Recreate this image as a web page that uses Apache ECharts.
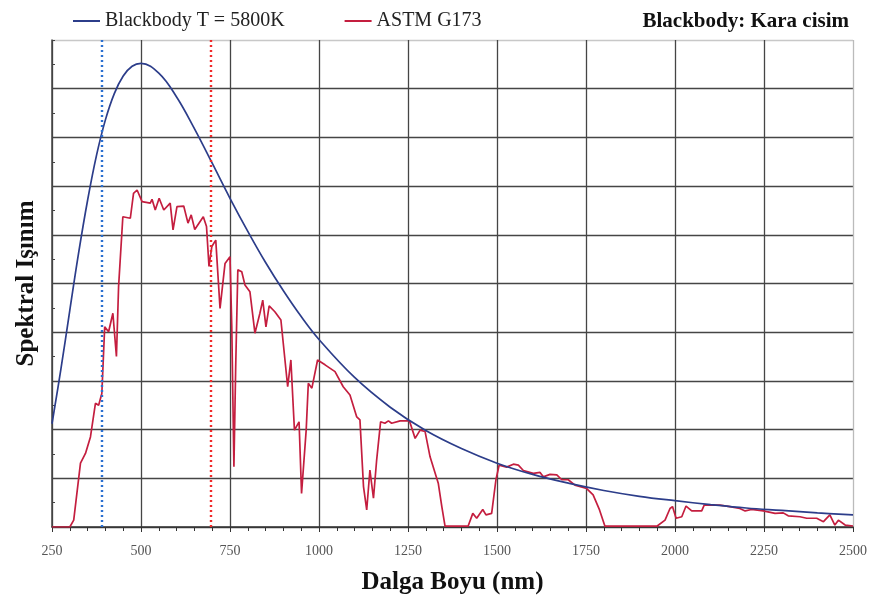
<!DOCTYPE html>
<html>
<head>
<meta charset="utf-8">
<script src="https://cdn.jsdelivr.net/npm/echarts@6/dist/echarts.min.js"></script>
<style>
  html, body { margin: 0; padding: 0; background: #fff; }
</style>
</head>
<body>
<div id="main" style="width: 870px;height: 601px"></div>
<script>
// Blackbody T = 5800K (dalga boyu nm, bağıl ışınım)
var bbWave = [250, 275, 300, 325, 350, 375, 400, 425, 450, 475, 500, 550, 600, 650, 700, 750, 800, 850, 900, 950, 1000,
  1100, 1200, 1300, 1400, 1500, 1600, 1700, 1800, 1900, 2000, 2100, 2200, 2300, 2400, 2500];
var bbValue = [2.12, 3.24, 4.45, 5.64, 6.71, 7.63, 8.36, 8.90, 9.26, 9.46, 9.52, 9.32, 8.83, 8.18, 7.47, 6.75, 6.07, 5.43, 4.85, 4.32, 3.85,
  3.07, 2.46, 1.98, 1.61, 1.31, 1.08, 0.90, 0.75, 0.63, 0.54, 0.46, 0.39, 0.34, 0.29, 0.25];

// ASTM G173
var astmWave = [250, 300, 311, 330, 344, 358, 372, 381, 390, 398, 409, 421, 431, 437, 449, 470, 479, 489, 503, 526, 531, 540, 551, 564, 582, 590,
  601, 620, 632, 641, 651, 675, 684, 691, 699, 710, 722, 736, 750, 755, 761, 766, 772, 783, 792, 806, 820, 834, 842, 851, 860, 876, 893,
  912, 921, 931, 944, 951, 964, 970, 980, 996, 1017, 1045, 1068, 1087, 1106, 1115, 1125, 1134, 1143, 1153, 1162, 1173, 1185, 1195, 1204,
  1228, 1254, 1270, 1284, 1298, 1312, 1335, 1345, 1354, 1419, 1432, 1443, 1460, 1469, 1485, 1497, 1506, 1527, 1546, 1560, 1574, 1602,
  1621, 1630, 1649, 1668, 1682, 1700, 1719, 1752, 1770, 1788, 1803, 1950, 1972, 1986, 1993, 2003, 2019, 2031, 2047, 2075, 2082, 2126,
  2154, 2182, 2197, 2215, 2248, 2281, 2304, 2318, 2351, 2370, 2398, 2417, 2435, 2449, 2459, 2478, 2500];
var astmValue = [0, 0, 0.14, 1.31, 1.51, 1.85, 2.54, 2.50, 2.74, 4.11, 4.01, 4.39, 3.50, 4.93, 6.37, 6.34, 6.85, 6.92, 6.68, 6.65, 6.73, 6.51, 6.75, 6.51, 6.65, 6.10,
  6.58, 6.59, 6.24, 6.41, 6.11, 6.37, 6.17, 5.35, 5.76, 5.89, 4.49, 5.41, 5.55, 4.11, 1.24, 3.29, 5.28, 5.24, 4.97, 4.83, 3.98, 4.39, 4.66, 4.11, 4.54, 4.42, 4.25,
  2.88, 3.43, 1.99, 2.16, 0.69, 1.99, 2.95, 2.85, 3.43, 3.33, 3.19, 2.88, 2.71, 2.26, 2.20, 0.83, 0.35, 1.17, 0.59, 1.38, 2.16, 2.13, 2.18, 2.13,
  2.18, 2.18, 1.82, 1.99, 1.96, 1.44, 0.90, 0.42, 0.02, 0.02, 0.28, 0.18, 0.36, 0.25, 0.28, 0.97, 1.27, 1.23, 1.29, 1.27, 1.16, 1.10,
  1.12, 1.03, 1.08, 1.07, 0.97, 0.97, 0.86, 0.79, 0.66, 0.35, 0.02, 0.02, 0.14, 0.38, 0.42, 0.18, 0.21, 0.43, 0.33, 0.33, 0.45, 0.45,
  0.42, 0.38, 0.33, 0.36, 0.33, 0.28, 0.29, 0.23, 0.21, 0.18, 0.18, 0.11, 0.25, 0.04, 0.14, 0.04, 0.02];

// görünür bölge sınırları
var visibleBounds = [390, 695];
var xTicks = [250, 500, 750, 1000, 1250, 1500, 1750, 2000, 2250, 2500];

function pairs(xs, ys) {
  var out = [];
  for (var i = 0; i < xs.length; i++) out.push([xs[i], ys[i]]);
  return out;
}

var serif = '"Liberation Serif", "Times New Roman", serif';
var xLineColors = xTicks.map(function (v, i) { return i === xTicks.length - 1 ? '#bbbbbb' : '#454545'; });
var yLineColors = [];
for (var k = 0; k <= 10; k++) yLineColors.push(k === 10 ? '#c8c8c8' : '#454545');

var chart = echarts.init(document.getElementById('main'));
var option = {
  animation: false,
  title: {
    text: 'Blackbody: Kara cisim',
    right: 16,
    top: 6,
    textStyle: { fontFamily: serif, fontSize: 21, fontWeight: 'bold', color: '#111' }
  },
  legend: {
    left: 68,
    top: 6,
    itemWidth: 27,
    itemHeight: 2,
    itemGap: 60,
    icon: 'rect',
    textStyle: { fontFamily: serif, fontSize: 20, color: '#222' },
    data: ['Blackbody T = 5800K', 'ASTM G173']
  },
  grid: { left: 52, right: 17, top: 40, bottom: 74 },
  xAxis: {
    type: 'value',
    min: 250,
    max: 2500,
    interval: 250,
    name: 'Dalga Boyu (nm)',
    nameLocation: 'middle',
    nameGap: 43,
    nameTextStyle: { fontFamily: serif, fontSize: 25, fontWeight: 'bold', color: '#111' },
    axisLine: { lineStyle: { color: '#333', width: 1.5 } },
    axisTick: { show: true, length: 5, lineStyle: { color: '#333' } },
    minorTick: { show: true, splitNumber: 5, length: 4, lineStyle: { color: '#333' } },
    axisLabel: {
      fontFamily: serif, fontSize: 14, color: '#555', margin: 17, showMaxLabel: true, showMinLabel: true,
      formatter: function (v) { return String(v); }
    },
    splitLine: { show: true, lineStyle: { color: xLineColors, width: 1.3 } }
  },
  yAxis: {
    type: 'value',
    min: 0,
    max: 10,
    interval: 1,
    name: 'Spektral Işınım',
    nameLocation: 'middle',
    nameGap: 13,
    nameTextStyle: { fontFamily: serif, fontSize: 25, fontWeight: 'bold', color: '#111' },
    axisLine: { show: true, lineStyle: { color: '#444', width: 1.5 } },
    axisTick: { show: true, inside: true, length: 3, lineStyle: { color: '#444' } },
    minorTick: { show: true, splitNumber: 2, length: 3, lineStyle: { color: '#444' } },
    axisLabel: { show: false },
    splitLine: { show: true, lineStyle: { color: yLineColors, width: 1.3 } }
  },
  series: [
    {
      name: 'Blackbody T = 5800K',
      type: 'line',
      data: pairs(bbWave, bbValue),
      smooth: 0.4,
      showSymbol: false,
      itemStyle: { color: '#2c3d8a' },
      lineStyle: { color: '#2c3d8a', width: 1.7 },
      z: 4,
      markLine: {
        silent: true,
        symbol: 'none',
        label: { show: false },
        data: [
          { xAxis: visibleBounds[0], lineStyle: { color: '#2a6fd0', type: [2, 3], width: 2.4 } },
          { xAxis: visibleBounds[1], lineStyle: { color: '#f02a2a', type: [2, 3], width: 2.4 } }
        ]
      }
    },
    {
      name: 'ASTM G173',
      type: 'line',
      data: pairs(astmWave, astmValue),
      showSymbol: false,
      itemStyle: { color: '#c41e3f' },
      lineStyle: { color: '#c41e3f', width: 1.7 },
      z: 3
    }
  ]
};
chart.setOption(option);
</script>
</body>
</html>
